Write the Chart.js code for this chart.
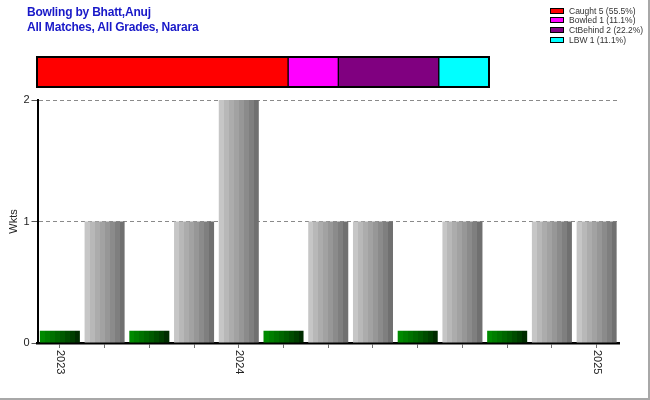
<!DOCTYPE html>
<html>
<head>
<meta charset="utf-8">
<script src="https://cdn.jsdelivr.net/npm/chart.js@4/dist/chart.umd.min.js"></script>
<style>
html,body{margin:0;padding:0;background:#fff;}
#wrap{position:relative;width:650px;height:400px;overflow:hidden;font-family:"Liberation Sans",Arial,sans-serif;}
#main{position:absolute;left:0;top:0;}
#dism{position:absolute;left:0;top:50px;}
.title{position:absolute;left:27px;font-weight:bold;font-size:12px;line-height:14px;color:#1818c8;letter-spacing:-0.2px;white-space:nowrap;}
#frame{position:absolute;left:0;top:0;width:650px;height:400px;box-sizing:border-box;border-right:2px solid #a8a8a8;border-bottom:2px solid #a8a8a8;pointer-events:none;}
.lgrow{position:absolute;left:550px;height:10px;white-space:nowrap;}
.lgbox{position:absolute;left:0;top:2px;width:14px;height:6px;box-sizing:border-box;border:1px solid #000;}
.lgtxt{position:absolute;left:19px;top:0;font-size:8.5px;line-height:10px;color:#333;}
</style>
</head>
<body>
<div id="wrap">
  <canvas id="main" width="650" height="400"></canvas>
  <canvas id="dism" width="500" height="45"></canvas>
  <div class="title" style="top:5px">Bowling by Bhatt,Anuj</div>
  <div class="title" style="top:19.5px">All Matches, All Grades, Narara</div>
  <div id="legend"></div>
  <div id="frame"></div>
</div>
<script>
// ---- data ----
const matchLabels = ['2023','','','','2024','','','','','','','','2025'];
const wickets     = [null,1,null,1,2,null,1,1,null,1,null,1,1];
const nilMarks    = [0.1,null,0.1,null,null,0.1,null,null,0.1,null,0.1,null,null];
const yTicks      = [0,1,2];
const dismissalTypes  = ['Caught','Bowled','CtBehind','LBW'];
const dismissalCounts = [5,1,2,1];

// ---- styles ----
const FONT = '"Liberation Sans", Arial, sans-serif';
const DISM_COLORS = ['#ff0000','#ff00ff','#800080','#00ffff'];
const GRAY_STRIPES  = ['#c6c6c6','#b8b8b8','#acacac','#a2a2a2','#979797','#8b8b8b','#7f7f7f','#707070'];
const GREEN_STRIPES = ['#008a00','#007e00','#007200','#006600','#005a00','#004c00','#003e00','#002c00'];
const BAR_PCT = 0.895;

function stripeFill(ctx, stripes){
  if (ctx.type !== 'data') return stripes[3];
  const chart = ctx.chart;
  const xs = chart.scales.x;
  if (!xs || !chart.chartArea) return stripes[3];
  const slot = xs.width / matchLabels.length;
  const w = slot * BAR_PCT;
  const cx = xs.getPixelForValue(ctx.dataIndex);
  const g = chart.ctx.createLinearGradient(cx - w/2, 0, cx + w/2, 0);
  const n = stripes.length;
  stripes.forEach((c,i)=>{
    g.addColorStop(i/n, c);
    g.addColorStop(Math.min(1,(i+1)/n - 0.0001), c);
  });
  return g;
}

const xLabelPlugin = {
  id:'xLabels',
  afterDraw(chart){
    const xs = chart.scales.x;
    const c = chart.ctx;
    c.save();
    c.font = '11px ' + FONT;
    c.fillStyle = '#222';
    c.textAlign = 'left';
    c.textBaseline = 'middle';
    matchLabels.forEach((t,i)=>{
      if (!t) return;
      const x = xs.getPixelForValue(i);
      c.save();
      c.translate(x, xs.top + 7);
      c.rotate(Math.PI/2);
      c.fillText(t, 0, 0);
      c.restore();
    });
    c.restore();
  }
};

new Chart(document.getElementById('main'), {
  type:'bar',
  data:{
    labels: matchLabels,
    datasets:[
      { label:'Wkts', data: wickets, backgroundColor: ctx=>stripeFill(ctx, GRAY_STRIPES),
        borderWidth:0, barPercentage:BAR_PCT, categoryPercentage:1 },
      { label:'Nil', data: nilMarks, backgroundColor: ctx=>stripeFill(ctx, GREEN_STRIPES),
        borderWidth:0, barPercentage:BAR_PCT, categoryPercentage:1 }
    ]
  },
  options:{
    responsive:false,
    animation:false,
    events:[],
    layout:{ padding:{ left:0, right:31, top:100, bottom:0 } },
    scales:{
      x:{
        stacked:true,
        offset:true,
        grid:{ offset:false, drawOnChartArea:false, drawTicks:true, tickLength:5, tickColor:'#707070', color:'#707070' },
        border:{ display:true, color:'#000', width:2.5 },
        ticks:{ display:false, autoSkip:false },
        afterFit(s){ s.height = 57; }
      },
      y:{
        min:yTicks[0], max:yTicks[yTicks.length-1],
        afterBuildTicks(s){ s.ticks = yTicks.map(v=>({value:v})); },
        ticks:{ color:'#222', font:{ size:11, family:FONT }, padding:2 },
        grid:{ color:'#8a8a8a', lineWidth:1, tickLength:6, tickColor:'#555', tickBorderDash:[] },
        border:{ display:true, color:'#000', width:2, dash:[4,3] },
        title:{ display:true, text:'Wkts', color:'#222', font:{ size:11, family:FONT }, padding:{ top:7, bottom:0 } },
        afterFit(s){ s.width = 37.5; }
      }
    },
    plugins:{ legend:{ display:false }, tooltip:{ enabled:false } }
  },
  plugins:[xLabelPlugin]
});

// ---- dismissal breakdown bar ----
const total = dismissalCounts.reduce((a,b)=>a+b,0);
const framePlugin = {
  id:'frame',
  afterDatasetsDraw(chart){
    const a = chart.chartArea, c = chart.ctx;
    c.save(); c.strokeStyle = '#000'; c.lineWidth = 2;
    c.strokeRect(a.left, a.top, a.right - a.left, a.bottom - a.top);
    c.restore();
  }
};
new Chart(document.getElementById('dism'), {
  type:'bar',
  data:{
    labels:['Dismissals'],
    datasets: dismissalTypes.map((t,i)=>({
      label:t, data:[dismissalCounts[i]], backgroundColor:DISM_COLORS[i],
      borderColor:'#000', borderWidth:1, borderSkipped:false,
      barPercentage:1, categoryPercentage:1
    }))
  },
  options:{
    indexAxis:'y',
    responsive:false,
    animation:false,
    events:[],
    layout:{ padding:{ left:37, right:11, top:7, bottom:8 } },
    scales:{
      x:{ display:false, stacked:true, min:0, max:total },
      y:{ display:false, stacked:true }
    },
    plugins:{ legend:{ display:false }, tooltip:{ enabled:false } }
  },
  plugins:[framePlugin]
});

// ---- legend ----
const lg = document.getElementById('legend');
dismissalTypes.forEach((t,i)=>{
  const pct = (Math.floor(dismissalCounts[i] / total * 1000) / 10).toFixed(1);
  const row = document.createElement('div');
  row.className = 'lgrow';
  row.style.top = (5.5 + i*9.8) + 'px';
  const box = document.createElement('div');
  box.className = 'lgbox';
  box.style.background = DISM_COLORS[i];
  const txt = document.createElement('div');
  txt.className = 'lgtxt';
  txt.textContent = t + ' ' + dismissalCounts[i] + ' (' + pct + '%)';
  row.appendChild(box); row.appendChild(txt);
  lg.appendChild(row);
});
</script>
</body>
</html>
